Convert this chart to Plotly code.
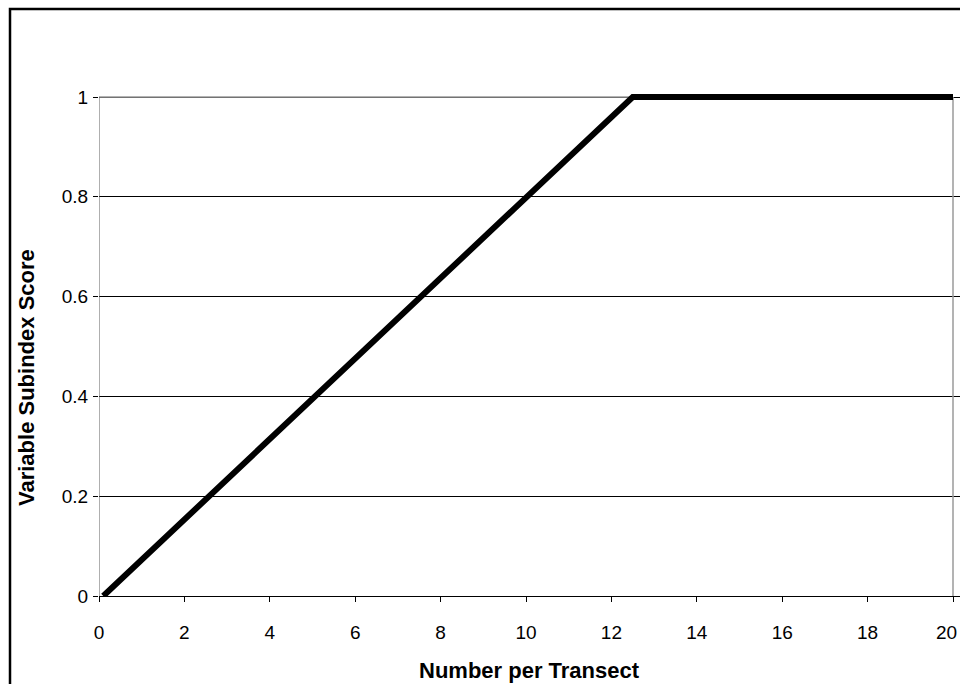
import plotly.graph_objects as go

x_vals = [0.1, 12.5, 20]
y_vals = [0, 1, 1]
x_ticks = [0, 2, 4, 6, 8, 10, 12, 14, 16, 18, 20]
x_tick_text = ["0", "2", "4", "6", "8", "10", "12", "14", "16", "18", "20"]
y_ticks = [0, 0.2, 0.4, 0.6, 0.8, 1]
y_tick_text = ["0", "0.2", "0.4", "0.6", "0.8", "1"]
x_title = "Number per Transect"
y_title = "Variable Subindex Score"

OFF = 0                # body margin removed by post_script below
PX_X = 854 / 20.0      # pixels per x unit
PX_Y = 499 / 1.0       # pixels per y unit
X_MAX = 20 + 7 / PX_X  # small extra room so the thick line is not clipped
Y_MAX = 1 + 6 / PX_Y
pw = round(X_MAX * PX_X)
ph = round(Y_MAX * PX_Y)
LEFT_PX, BOTTOM_PX = 99, 596
L = LEFT_PX - OFF
T = BOTTOM_PX - ph - OFF
W, H = 960, 684
R = max(0, W - L - pw)
W = L + pw + R
B = H - T - ph

def px_x(p):
    return (p - LEFT_PX) / pw

def px_y(p):
    return (BOTTOM_PX - p) / ph

fig = go.Figure()
fig.add_trace(go.Scatter(x=x_vals, y=y_vals, mode="lines",
                         line=dict(color="black", width=6),
                         cliponaxis=False, showlegend=False, hoverinfo="skip"))

# the last tick label is pulled inside the chart edge (as in the original)
shown_tick_text = x_tick_text[:-1] + [""]

font = "Liberation Sans, Arial, sans-serif"
fig.update_layout(
    width=W, height=H,
    margin=dict(l=L, r=R, t=T, b=B, autoexpand=False),
    plot_bgcolor="white", paper_bgcolor="white",
    font=dict(family=font, color="black", size=19),
    xaxis=dict(range=[0, X_MAX], tickvals=x_ticks, ticktext=shown_tick_text,
               showgrid=False, zeroline=False, showline=True, linecolor="black",
               linewidth=1, ticks="outside", ticklen=5, tickcolor="black",
               tickfont=dict(size=19), ticklabelstandoff=14),
    yaxis=dict(range=[0, Y_MAX], tickvals=y_ticks, ticktext=y_tick_text,
               showgrid=True, gridcolor="black", gridwidth=1, zeroline=False,
               showline=False,
               ticks="outside", ticklen=5, tickcolor="black",
               tickfont=dict(size=19), ticklabelstandoff=1),
    annotations=[
        dict(text=x_tick_text[-1], xref="paper", yref="paper",
             x=px_x(959), y=px_y(632), xanchor="right", yanchor="middle",
             showarrow=False, font=dict(size=19)),
        dict(text="<b>" + x_title + "</b>", xref="paper", yref="paper",
             x=px_x(529.5), y=px_y(670), xanchor="center", yanchor="middle",
             showarrow=False, font=dict(size=22)),
        dict(text="<b>" + y_title + "</b>", xref="paper", yref="paper",
             x=px_x(26), y=px_y(378), xanchor="center",
             yanchor="middle", textangle=-90, showarrow=False, font=dict(size=22)),
    ],
    shapes=[
        # outer chart border
        dict(type="rect", xref="paper", yref="paper",
             x0=px_x(10), x1=1.5, y0=-0.5, y1=px_y(9),
             line=dict(color="black", width=2.5), layer="below"),
        # grey top gridline at y = 1
        dict(type="line", xref="x", yref="y", x0=0, x1=20, y0=1, y1=1,
             line=dict(color="#9a9a9a", width=1.5), layer="between"),
        # grey right edge of the plot area
        dict(type="line", xref="x", yref="y", x0=20, x1=20, y0=0, y1=1,
             line=dict(color="#9a9a9a", width=1.5), layer="between"),
        # grey-ish left axis line
        dict(type="line", xref="x", yref="y", x0=0, x1=0, y0=0, y1=1,
             line=dict(color="#606060", width=1), layer="between"),
    ],
)

fig.write_html(
    "out.html",
    config={"displayModeBar": False},
    post_script="document.body.style.margin='0';document.body.style.overflow='hidden';",
)
